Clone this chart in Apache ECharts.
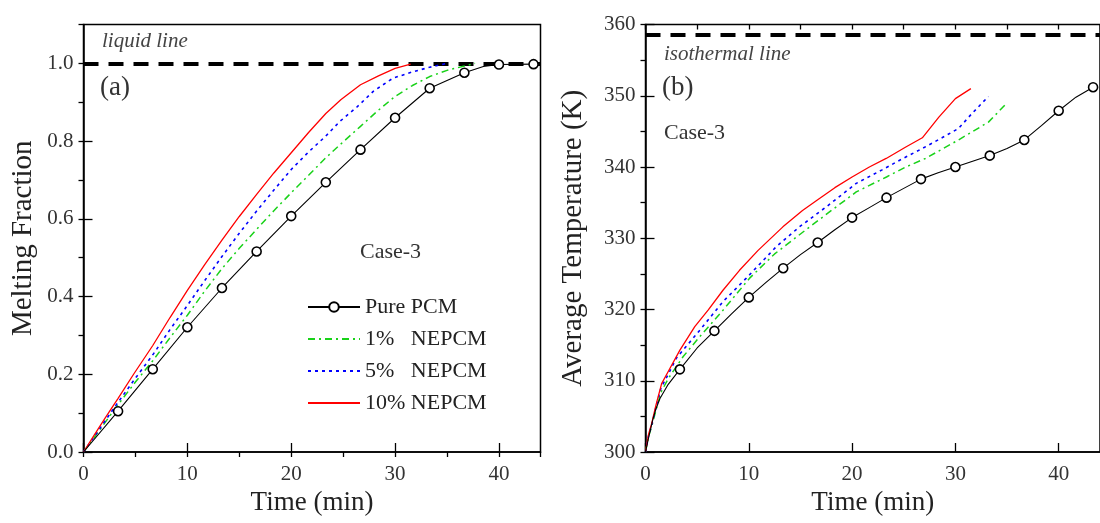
<!DOCTYPE html>
<html>
<head>
<meta charset="utf-8">
<script src="https://cdn.jsdelivr.net/npm/echarts@6/dist/echarts.min.js"></script>
<style>
html,body{margin:0;padding:0;background:#fff;}
#chart{width:1100px;height:523px;}
</style>
</head>
<body>
<div id="chart"></div>
<script>
// ---------- Data ----------
const seriesNames = ['Pure PCM', '1%   NEPCM', '5%   NEPCM', '10% NEPCM'];
const markerStep = 10 / 3; // Pure PCM markers every 200 s

// (a) Melting fraction
const fracTimeBlack = [0, 3.33, 6.67, 10, 13.33, 16.67, 20, 23.33, 26.67, 30, 33.33, 36.67, 38.5, 40, 43.33];
const fracBlack     = [0, 0.105, 0.213, 0.321, 0.422, 0.516, 0.607, 0.694, 0.778, 0.86, 0.936, 0.976, 0.992, 0.997, 0.998];

const fracTimeGreen = [0, 1, 2, 3.33, 5, 6.67, 8.33, 10, 11.67, 13.33, 15, 16.67, 18.33, 20, 21.67, 23.33, 25, 26.67, 28.33, 30, 31.67, 33.33, 35, 36.67, 37.7];
const fracGreen     = [0, 0.036, 0.073, 0.122, 0.18, 0.235, 0.294, 0.352, 0.414, 0.472, 0.524, 0.573, 0.621, 0.667, 0.712, 0.757, 0.798, 0.838, 0.878, 0.915, 0.943, 0.966, 0.982, 0.993, 1.0];

const fracTimeBlue  = [0, 1, 2, 3.33, 5, 6.67, 8.33, 10, 11.67, 13.33, 15, 16.67, 18.33, 20, 21.67, 23.33, 24.7, 26.3, 27.9, 29.8, 31.8, 33.33, 35];
const fracBlue      = [0, 0.038, 0.077, 0.128, 0.19, 0.25, 0.315, 0.377, 0.441, 0.503, 0.563, 0.62, 0.674, 0.727, 0.772, 0.813, 0.851, 0.887, 0.928, 0.962, 0.979, 0.99, 1.0];

const fracTimeRed   = [0, 1, 2, 3.33, 4.87, 6.67, 8.33, 10, 11.67, 13.33, 15, 16.67, 18.33, 20, 21.67, 23.33, 24.8, 26.67, 28.4, 30, 31.5];
const fracRed       = [0, 0.042, 0.084, 0.138, 0.202, 0.274, 0.346, 0.416, 0.482, 0.545, 0.606, 0.663, 0.718, 0.77, 0.822, 0.871, 0.907, 0.945, 0.968, 0.987, 0.998];

const liquidLevel = 1.0;

// (b) Average temperature
const tempTimeBlack = [0, 0.3, 0.7, 1.0, 1.4, 2.2, 3.33, 5, 6.67, 8.33, 10, 11.67, 13.33, 15, 16.67, 18.33, 20, 21.67, 23.33, 25, 26.67, 28.33, 30, 31.67, 33.33, 35, 36.67, 38.33, 40, 41.67, 43.33];
const tempBlack     = [300, 302, 304.5, 306, 307.5, 309.5, 311.6, 314.6, 317.0, 319.4, 321.7, 323.8, 325.8, 327.7, 329.4, 331.2, 332.9, 334.3, 335.7, 337.0, 338.3, 339.2, 340.0, 340.8, 341.6, 342.6, 343.8, 345.8, 347.9, 349.8, 351.2];

const tempTimeGreen = [0, 0.3, 0.6, 1.0, 1.5, 2.2, 3.65, 5.26, 7.5, 10.08, 12.5, 15.9, 18, 20.4, 23.33, 25.2, 27.1, 30.3, 33.2, 34.8];
const tempGreen     = [300, 302.2, 303.6, 305.8, 308.4, 310.3, 313.4, 316.2, 319.9, 324.4, 327.8, 331.6, 333.9, 336.5, 338.6, 340.0, 341.2, 343.8, 346.3, 348.7];

const tempTimeBlue  = [0, 0.3, 0.6, 1.0, 1.5, 2.2, 3.0, 5.26, 7.5, 9.76, 12.65, 14.9, 17.5, 20.4, 22.9, 24.8, 26.8, 28.7, 30.3, 31.6, 33.2];
const tempBlue      = [300, 302.3, 303.8, 306.2, 309.0, 310.9, 313.2, 317.1, 321.1, 324.4, 328.8, 331.6, 334.4, 337.7, 339.6, 341.1, 342.6, 344.1, 345.4, 347.5, 349.9];

const tempTimeRed   = [0, 0.3, 0.6, 1.0, 1.56, 2.2, 3.33, 4.77, 6.06, 7.5, 9.1, 10.9, 13.3, 15.2, 16.67, 18.33, 20, 21.67, 23.3, 25.2, 26.8, 28.4, 30, 31.5];
const tempRed       = [300, 302.5, 304, 306.5, 309.6, 311.3, 314.3, 317.6, 319.9, 322.7, 325.5, 328.3, 331.6, 333.9, 335.4, 337.1, 338.6, 340.0, 341.2, 342.8, 344.1, 347.0, 349.6, 351.0];

const isothermLevel = 358.5;

// tick settings
const xMax = 44, xMajor = 10, xMinor = 5;
const fracMin = 0, fracMax = 1.1, fracMajor = 0.2, fracMinor = 0.1;
const tempMin = 300, tempMax = 360, tempMajor = 10, tempMinor = 5;

// ---------- Helpers ----------
const FONT = '"Liberation Serif", "Times New Roman", serif';
const zip = (a, b) => a.map((v, i) => [v, b[i]]);
const isMarker = (t) => {
  const k = t / markerStep;
  return t > 0 && Math.abs(k - Math.round(k)) < 0.02;
};

const styles = [
  { color: '#000000', width: 1.1, type: 'solid' },
  { color: '#19d219', width: 1.5, type: [7, 4, 2, 4] },
  { color: '#0000ff', width: 1.6, type: [3, 4] },
  { color: '#ff0000', width: 1.3, type: 'solid' }
];

function makeSeries(name, idx, data, axisIdx, refLevel) {
  const st = styles[idx];
  const s = {
    name: name,
    type: 'line',
    xAxisIndex: axisIdx,
    yAxisIndex: axisIdx,
    data: data,
    smooth: false,
    lineStyle: { color: st.color, width: st.width, type: st.type },
    itemStyle: { color: st.color },
    z: 3 + idx,
    animation: false
  };
  if (idx === 0) {
    s.symbol = 'circle';
    s.showAllSymbol = true;
    s.symbolSize = (v) => isMarker(v[0]) ? 9 : 0;
    s.itemStyle = { color: '#ffffff', borderColor: '#000000', borderWidth: 1.6 };
    s.z = 10;
  } else {
    s.symbol = 'none';
  }
  if (refLevel !== undefined) {
    s.markLine = {
      silent: true,
      symbol: ['none', 'none'],
      label: { show: false },
      lineStyle: { color: '#000', width: 4, type: [15, 10] },
      data: [{ yAxis: refLevel }],
      z: 2,
      animation: false
    };
  }
  return s;
}

function mainX(grid) {
  return {
    type: 'value', gridIndex: grid, min: 0, max: xMax, interval: xMajor,
    name: 'Time (min)', nameLocation: 'middle', nameGap: 37,
    nameTextStyle: { fontFamily: FONT, fontSize: 27, color: '#222' },
    axisLine: { show: true, lineStyle: { color: '#000', width: 1.5 } },
    axisTick: { show: true, inside: true, length: 9, lineStyle: { color: '#000', width: 1.3 } },
    axisLabel: { fontFamily: FONT, fontSize: 21, color: '#333', margin: 12, showMaxLabel: false },
    splitLine: { show: false }
  };
}
function minorX(grid) {
  return {
    type: 'value', gridIndex: grid, min: 0, max: xMax, interval: xMinor,
    axisLine: { show: false },
    axisTick: { show: true, inside: true, length: 5, lineStyle: { color: '#000', width: 1.3 } },
    axisLabel: { show: false }, splitLine: { show: false }
  };
}
function mainY(grid, mn, mx, iv, name, gap, fmt, showMax) {
  return {
    type: 'value', gridIndex: grid, min: mn, max: mx, interval: iv,
    name: name, nameLocation: 'middle', nameGap: gap,
    nameTextStyle: { fontFamily: FONT, fontSize: 29, color: '#222' },
    axisLine: { show: true, lineStyle: { color: '#000', width: 1.5 } },
    axisTick: { show: true, inside: true, length: 9, lineStyle: { color: '#000', width: 1.3 } },
    axisLabel: { fontFamily: FONT, fontSize: 21, color: '#333', margin: 10, formatter: fmt, showMaxLabel: showMax },
    splitLine: { show: false }
  };
}
function minorY(grid, mn, mx, iv) {
  return {
    type: 'value', gridIndex: grid, min: mn, max: mx, interval: iv,
    axisLine: { show: false },
    axisTick: { show: true, inside: true, length: 5, lineStyle: { color: '#000', width: 1.3 } },
    axisLabel: { show: false }, splitLine: { show: false }
  };
}

const legendData = seriesNames.map((n, i) =>
  i === 0 ? { name: n } : { name: n, itemStyle: { opacity: 0 } }
);

const chart = echarts.init(document.getElementById('chart'), null, { renderer: 'canvas' });

const option = {
  backgroundColor: '#ffffff',
  animation: false,
  grid: [
    { left: 83.5, top: 24.5, width: 457, height: 427.5, show: true, borderColor: '#000', borderWidth: 1.5, containLabel: false },
    { left: 645.5, top: 24.5, width: 457, height: 427.5, show: true, borderColor: '#000', borderWidth: 1.5, containLabel: false }
  ],
  xAxis: [mainX(0), minorX(0), mainX(1), minorX(1)],
  yAxis: [
    mainY(0, fracMin, fracMax, fracMajor, 'Melting Fraction', 46, (v) => v.toFixed(1), false),
    minorY(0, fracMin, fracMax, fracMinor),
    mainY(1, tempMin, tempMax, tempMajor, 'Average Temperature (K)', 58, (v) => String(v), true),
    minorY(1, tempMin, tempMax, tempMinor)
  ],
  legend: {
    data: legendData,
    orient: 'vertical',
    left: 302, top: 291,
    itemWidth: 52, itemHeight: 12, itemGap: 10,
    textStyle: { fontFamily: FONT, fontSize: 22, color: '#222' },
    selectedMode: false
  },
  graphic: [
    { type: 'text', left: 102, top: 31, style: { text: 'liquid line', fontFamily: FONT, fontStyle: 'italic', fontSize: 21, fill: '#444' } },
    { type: 'text', left: 100, top: 74, style: { text: '(a)', fontFamily: FONT, fontSize: 27, fill: '#333' } },
    { type: 'text', left: 360, top: 241, style: { text: 'Case-3', fontFamily: FONT, fontSize: 22, fill: '#333' } },
    { type: 'text', left: 664, top: 44, style: { text: 'isothermal line', fontFamily: FONT, fontStyle: 'italic', fontSize: 21, fill: '#444' } },
    { type: 'text', left: 662, top: 74, style: { text: '(b)', fontFamily: FONT, fontSize: 27, fill: '#333' } },
    { type: 'text', left: 664, top: 122, style: { text: 'Case-3', fontFamily: FONT, fontSize: 22, fill: '#333' } }
  ],
  series: [
    makeSeries(seriesNames[0], 0, zip(fracTimeBlack, fracBlack), 0, liquidLevel),
    makeSeries(seriesNames[1], 1, zip(fracTimeGreen, fracGreen), 0),
    makeSeries(seriesNames[2], 2, zip(fracTimeBlue, fracBlue), 0),
    makeSeries(seriesNames[3], 3, zip(fracTimeRed, fracRed), 0),
    makeSeries(seriesNames[0], 0, zip(tempTimeBlack, tempBlack), 2, isothermLevel),
    makeSeries(seriesNames[1], 1, zip(tempTimeGreen, tempGreen), 2),
    makeSeries(seriesNames[2], 2, zip(tempTimeBlue, tempBlue), 2),
    makeSeries(seriesNames[3], 3, zip(tempTimeRed, tempRed), 2)
  ]
};
chart.setOption(option);
</script>
</body>
</html>
